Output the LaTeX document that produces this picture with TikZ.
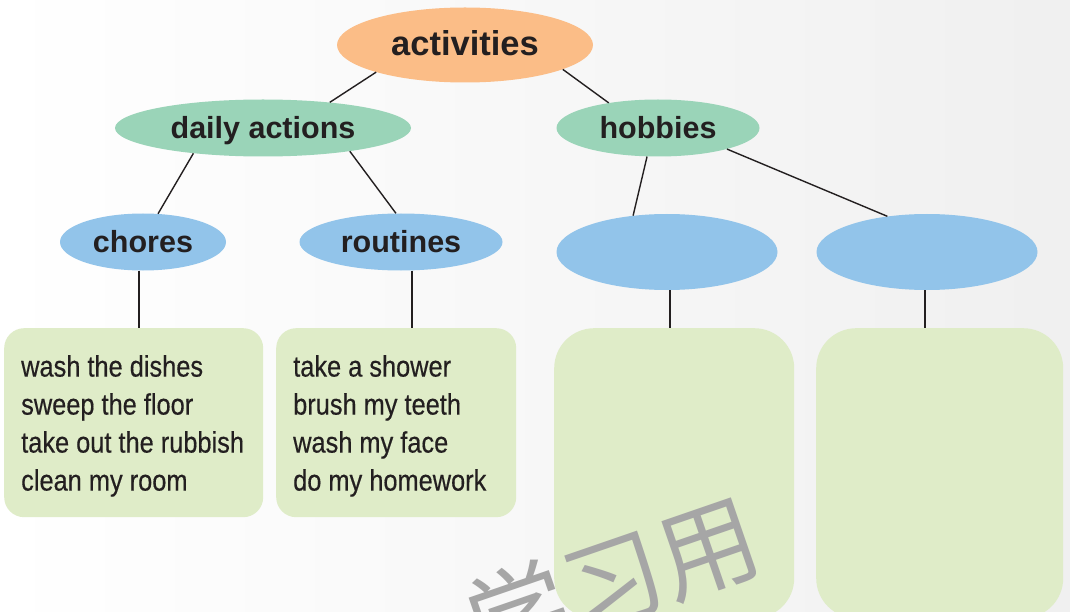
\documentclass[tikz,border=0pt]{standalone}
\usepackage{fontspec}
\setmainfont{Liberation Sans}
\newfontfamily\listfont[FakeStretch=0.86,FakeBold=0.4]{Liberation Sans}
\newfontfamily\cjk{Noto Sans CJK SC}
\usepackage{tikz}
\usetikzlibrary{positioning,shapes.geometric}

\definecolor{rootorange}{HTML}{FBBD87}
\definecolor{midgreen}{HTML}{9AD4B8}
\definecolor{leafblue}{HTML}{92C4EA}
\definecolor{boxgreen}{HTML}{DFECC8}
\definecolor{inkdark}{HTML}{231F20}

\tikzset{
  topic/.style={ellipse, inner sep=0pt, text=inkdark, text height=22pt, text depth=0pt,
    font=\bfseries\fontsize{30.5}{36}\selectfont},
  listbox/.style={draw=none, fill=boxgreen, anchor=north west, inner sep=0pt},
  listtext/.style={anchor=north west, align=left, inner sep=0pt, text=inkdark,
    font=\listfont\fontsize{29.5}{38}\selectfont},
  link/.style={draw=inkdark, line width=1.4pt}
}

\begin{document}
\begin{tikzpicture}[x=1pt,y=-1pt]
        \useasboundingbox (0,0) rectangle (1070,612);
        \fill[left color=white, right color=black!6] (0,0) rectangle (1070,612);
        % top of the tree
        \node[topic, fill=rootorange, minimum width=256pt, minimum height=75pt,
          font=\bfseries\fontsize{34.5}{40}\selectfont] (act) at (465,45) {activities};
        \node[topic, fill=midgreen, minimum width=296pt, minimum height=57pt] (daily) at (263,128) {daily actions};
        \node[topic, fill=midgreen, minimum width=203pt, minimum height=57pt] (hob) at (658,128) {hobbies};
        % third row
        \node[topic, fill=leafblue, minimum width=166pt, minimum height=57pt] (chores) at (143,242) {chores};
        \node[topic, fill=leafblue, minimum width=203pt, minimum height=57pt] (routines) at (401,242) {routines};
        \node[topic, fill=leafblue, minimum width=221pt, minimum height=76pt] (hobA) at (667,252) {};
        \node[topic, fill=leafblue, minimum width=221pt, minimum height=76pt] (hobB) at (927,252) {};
        % word lists
        \node[listbox, rounded corners=20pt, minimum width=259pt, minimum height=189pt] (chorelist) at (4,328) {};
        \node[listbox, rounded corners=20pt, minimum width=240pt, minimum height=189pt] (routinelist) at (276,328) {};
        \node[listbox, rounded corners=40pt, minimum width=240pt, minimum height=290pt] (hobAlist) at (554,328) {};
        \node[listbox, rounded corners=40pt, minimum width=247pt, minimum height=290pt] (hobBlist) at (816,328) {};
        \node[listtext] (chorewords) at (21,355) {wash the dishes\\sweep the floor\\take out the rubbish\\clean my room};
        \node[listtext] (routinewords) at (293,355) {take a shower\\brush my teeth\\wash my face\\do my homework};
        % branches
        \draw[link] (act.197) -- (daily.21);
        \draw[link] (act.-14) -- (hob.153);
        \draw[link] (daily.200) -- (chores.62);
        \draw[link] (daily.-15) -- (routines.100);
        \draw[link] (hob.249) -- (hobA.133);
        \draw[link] (hob.-17) -- (hobB.138);
        \draw[link] ([xshift=-4pt]chores.south) -- ([xshift=-4pt]chores.south |- chorelist.north);
        \draw[link] ([xshift=11pt]routines.south) -- ([xshift=11pt]routines.south |- routinelist.north);
        \draw[link] ([xshift=3pt]hobA.south) -- ([xshift=3pt]hobA.south |- hobAlist.north);
        \draw[link] ([xshift=-2pt]hobB.south) -- ([xshift=-2pt]hobB.south |- hobBlist.north);
        \node[rotate=19, inner sep=0pt, text=black!35, font=\cjk\fontsize{100}{100}\selectfont] (mark) at (613,580) {学习用};
      \end{tikzpicture}
\end{document}
